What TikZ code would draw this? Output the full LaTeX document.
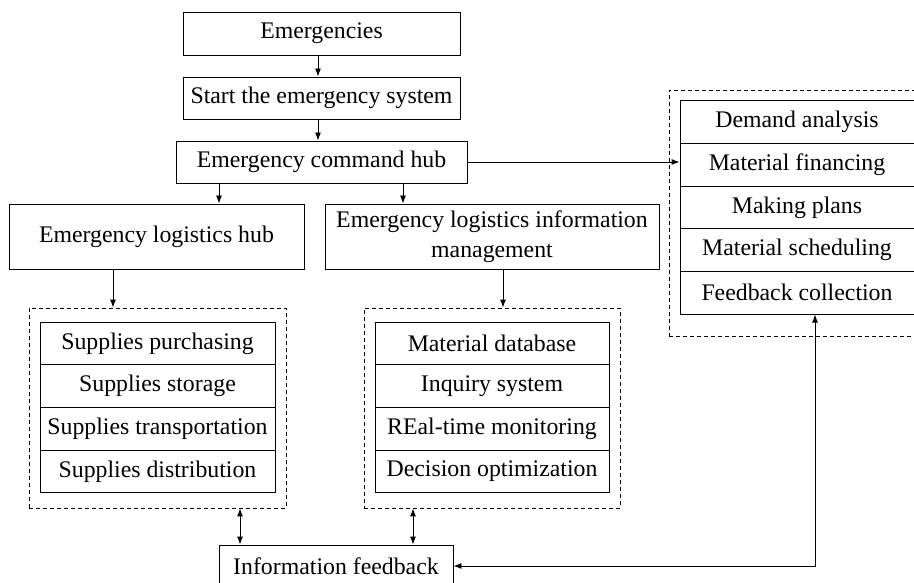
\documentclass[tikz,border=0pt]{standalone}
\usepackage{fontspec}
\setmainfont{Liberation Serif}
\usetikzlibrary{arrows.meta}
\begin{document}
\begin{tikzpicture}[x=1pt,y=-1pt,
  box/.style={draw, line width=0.9pt, inner sep=0pt, align=center, font=\fontsize{23.8}{29.5}\selectfont},
  row/.style={box, minimum width=234pt, minimum height=42.7pt},
  dbox/.style={draw, dash pattern=on 4pt off 3pt, line width=0.8pt, inner sep=0pt},
  arr/.style={-{Latex[length=8pt,width=6pt]}, line width=0.9pt},
  darr/.style={{Latex[length=8pt,width=6pt]}-{Latex[length=8pt,width=6pt]}, line width=0.9pt}]
\useasboundingbox (0,0) rectangle (914,583);
\clip (0,0) rectangle (914,583);

% top chain
\node[box, minimum width=277pt, minimum height=43pt] (em) at (321.5,33.5) {Emergencies};
\node[box, minimum width=277pt, minimum height=42pt] (st) at (321.5,98) {Start the emergency system};
\node[box, minimum width=291pt, minimum height=42pt] (hub) at (321.5,162) {Emergency command hub};
\node[box, minimum width=295pt, minimum height=65pt] (lh) at (156.5,236.5) {Emergency logistics hub};
\node[box, minimum width=334pt, minimum height=65pt] (im) at (492,236.5) {Emergency logistics information\\management};

% left group
\node[dbox, minimum width=257pt, minimum height=200pt] (ld) at (157.5,408) {};
\node[row, minimum width=235pt] (l1) at (157.5,343.4) {Supplies purchasing};
\node[row, minimum width=235pt] (l2) at (157.5,386.1) {Supplies storage};
\node[row, minimum width=235pt] (l3) at (157.5,428.8) {Supplies transportation};
\node[row, minimum width=235pt] (l4) at (157.5,471.5) {Supplies distribution};

% middle group
\node[dbox, minimum width=256pt, minimum height=200pt] (md) at (492,408) {};
\node[row] (m1) at (492,343.4) {Material database};
\node[row] (m2) at (492,386.1) {Inquiry system};
\node[row] (m3) at (492,428.8) {REal-time monitoring};
\node[row] (m4) at (492,471.5) {Decision optimization};

% right group
\node[dbox, minimum width=256pt, minimum height=246pt] (rd) at (797,213) {};
\node[row] (r1) at (797,122.3) {Demand analysis};
\node[row] (r2) at (797,164.9) {Material financing};
\node[row] (r3) at (797,207.5) {Making plans};
\node[row] (r4) at (797,250.1) {Material scheduling};
\node[row] (r5) at (797,292.7) {Feedback collection};

% feedback
\node[box, minimum width=234pt, minimum height=42pt] (fb) at (336,566) {Information feedback};

% x helpers
\coordinate (xa) at (318,0);
\coordinate (xb) at (219,0);
\coordinate (xc) at (403,0);
\coordinate (xd) at (113,0);
\coordinate (xe) at (503,0);
\coordinate (xf) at (240,0);
\coordinate (xg) at (413,0);
\coordinate (xh) at (815,0);

\draw[arr] (em.south -| xa) -- (st.north -| xa);
\draw[arr] (st.south -| xa) -- (hub.north -| xa);
\draw[arr] (hub.south -| xb) -- (lh.north -| xb);
\draw[arr] (hub.south -| xc) -- (im.north -| xc);
\draw[arr] (lh.south -| xd) -- (ld.north -| xd);
\draw[arr] (im.south -| xe) -- (md.north -| xe);
\draw[arr] (hub.east) -- (hub.east -| r2.west);
\draw[darr] (ld.south -| xf) -- (fb.north -| xf);
\draw[darr] (md.south -| xg) -- (fb.north -| xg);
\draw[darr] (r5.south -| xh) |- (fb.east);
\end{tikzpicture}
\end{document}
